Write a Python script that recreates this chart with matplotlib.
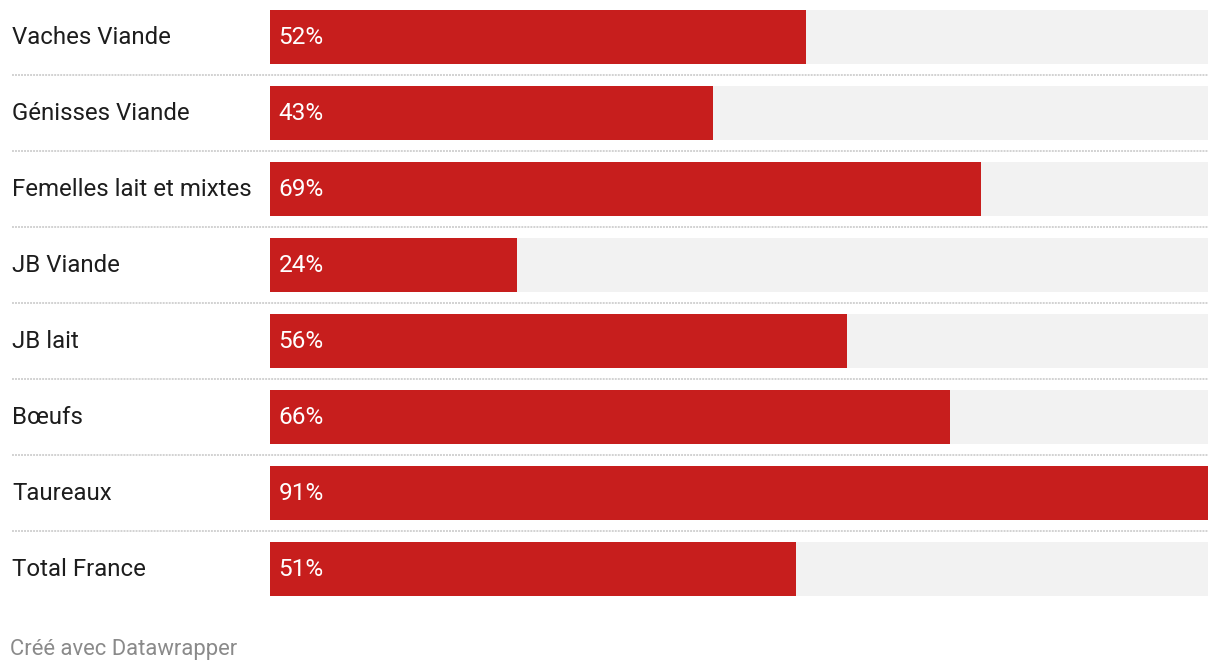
import matplotlib
matplotlib.use("Agg")
import matplotlib.pyplot as plt
from matplotlib.transforms import blended_transform_factory

categories = ["Vaches Viande", "Génisses Viande", "Femelles lait et mixtes", "JB Viande",
              "JB lait", "Bœufs", "Taureaux", "Total France"]
values = [52, 43, 69, 24, 56, 66, 91, 51]
value_labels = [f"{v}%" for v in values]
footer = "Créé avec Datawrapper"

plt.rcParams['font.family'] = ['Roboto', 'DejaVu Sans']

W, H = 1220, 672
fig = plt.figure(figsize=(W / 100, H / 100), dpi=100)
fig.patch.set_facecolor("white")

x0, x1 = 270, 1208
top, bottom = 0, 608
ax = fig.add_axes([x0 / W, (H - bottom) / H, (x1 - x0) / W, (bottom - top) / H])
ax.set_xlim(0, max(values))
row_px = 76
ax.set_ylim((bottom - 37) / row_px, (top - 37) / row_px)
ax.axis("off")

n = len(categories)
ys = list(range(n))
bh = 54 / row_px
ax.barh(ys, [max(values)] * n, height=bh, color="#f2f2f2", zorder=1)
ax.barh(ys, values, height=bh, color="#c71e1d", zorder=2)

trans = blended_transform_factory(fig.transFigure, ax.transData)
base = 7.3 / row_px
for i, (cat, lab) in enumerate(zip(categories, value_labels)):
    ax.text(12 / W, i + base, cat, transform=trans, ha="left", va="baseline",
            fontsize=17.3, color="#1d1d1d")
    ax.text(11 / W, i + base, lab, transform=blended_transform_factory(ax.transAxes, ax.transData),
            ha="left", va="baseline", fontsize=17.6, color="white", zorder=3)
    if i < n - 1:
        ax.plot([12 / W, 1208 / W], [i + 0.5, i + 0.5], transform=trans, clip_on=False,
                color="#d2d2d2", lw=1.4, linestyle=(0, (1.0, 0.55)), zorder=0)

fig.text(10 / W, 1 - 655 / H, footer, ha="left", va="baseline", fontsize=15.8, color="#8a8a8a")

fig.savefig("out.png", dpi=100, facecolor="white")
